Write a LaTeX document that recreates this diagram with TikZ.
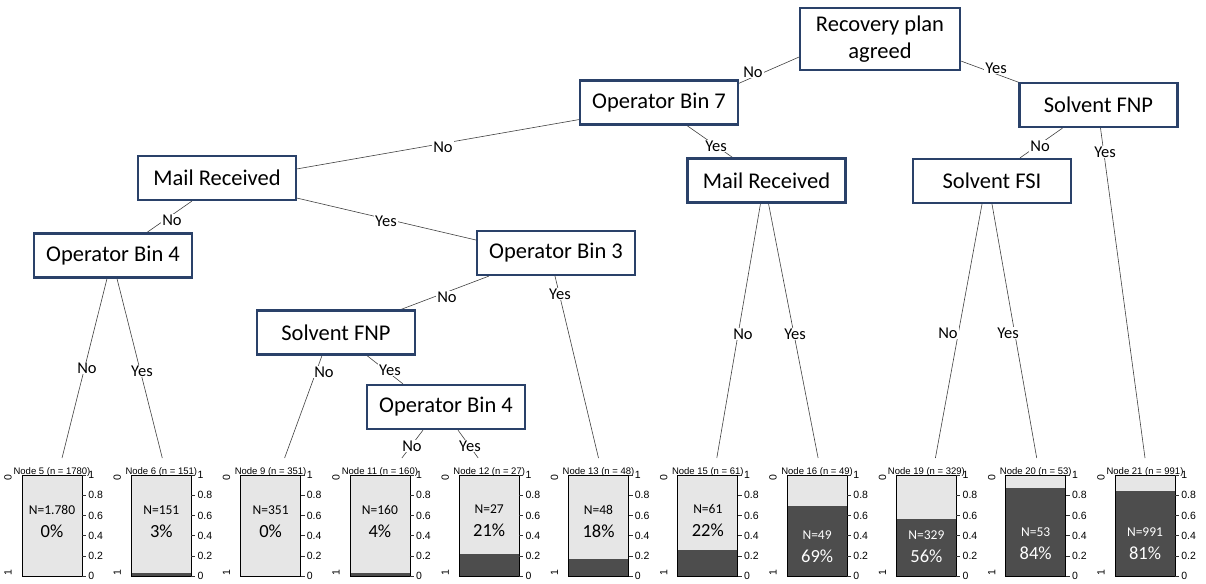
\documentclass[tikz,border=0pt]{standalone}
\usepackage{fontspec}
\newfontfamily\carl{Carlito}
\newfontfamily\lsans{Liberation Sans}
\usetikzlibrary{calc,backgrounds}
\definecolor{navy}{HTML}{2A4169}
\definecolor{lightbar}{HTML}{E6E6E6}
\definecolor{darkbar}{HTML}{4D4D4D}
\tikzset{
  dbox/.style={draw=navy, line width=2.2pt, fill=white, minimum width=158pt, minimum height=44pt,
    inner sep=2pt, font=\carl\fontsize{22.5}{27}\selectfont},
  elab/.style={fill=white, inner sep=1pt, font=\carl\fontsize{16.5}{18}\selectfont},
  edge/.style={draw=black!75, line width=0.6pt},
  barbox/.style={minimum width=60pt, minimum height=101pt, inner sep=0pt, outer sep=0pt, fill=lightbar},
  darkfill/.style={fill=darkbar},
  barline/.style={draw=black, line width=0.8pt},
  ttl/.style={anchor=base, inner sep=0pt, font=\lsans\fontsize{9.5}{10}\selectfont},
  ntext/.style={inner sep=0pt, font=\carl\fontsize{13.5}{14}\selectfont},
  ptext/.style={inner sep=0pt, font=\carl\fontsize{18.5}{20}\selectfont},
  axlab/.style={inner sep=2pt, font=\lsans\fontsize{10.5}{11}\selectfont},
  tick/.style={draw=black!80, line width=0.6pt}
}
\newcommand{\leafbar}[8]{%
  \node[barbox] (#1) at (#2+30,525.5) {};
  \fill[darkfill] (#1.south west) rectangle ($(#1.south east)+(0,-#3*101)$);
  \draw[barline] (#1.south west) rectangle (#1.north east);
  \node[ttl] (#1t) at (#2+30,474) {#4};
  \node[ntext,text=#8] (#1n) at (#2+30,#7) {#5};
  \node[ptext,text=#8] (#1p) at (#2+30,#7+21) {#6};
  \foreach \v in {0,0.2,0.4,0.6,0.8,1}{%
    \draw[tick] ($(#1.south east)+(0,-\v*101)$) -- ++(4,0) node[axlab,anchor=west]{\v};}
  \node[axlab,rotate=90] (#1a) at ($(#1.north west)+(-14,3)$) {0};
  \node[axlab,rotate=90] (#1b) at ($(#1.south west)+(-14,-3)$) {1};
}
\begin{document}
\begin{tikzpicture}[x=1pt,y=-1pt]
\useasboundingbox (0,0) rectangle (1206,583);
% decision boxes
\node[dbox, minimum width=160pt, minimum height=62pt, align=center] (rec) at (880,39) {Recovery plan\\agreed};
\node[dbox] (ob7) at (659,102.5) {Operator Bin 7};
\node[dbox] (mrM) at (766.5,180.5) {Mail Received};
\node[dbox] (sfnpR) at (1098.5,105) {Solvent FNP};
\node[dbox] (sfsi) at (992,181) {Solvent FSI};
\node[dbox] (mrL) at (217,178) {Mail Received};
\node[dbox] (ob4L) at (113,255.5) {Operator Bin 4};
\node[dbox] (ob3) at (556,253) {Operator Bin 3};
\node[dbox] (sfnpM) at (336,332.5) {Solvent FNP};
\node[dbox] (ob4M) at (446,407) {Operator Bin 4};
% leaves
\leafbar{n5}{22}{0}{Node 5 (n = 1780)}{N=1.780}{0\%}{510}{black}
\leafbar{n6}{131.3}{0.03}{Node 6 (n = 151)}{N=151}{3\%}{510}{black}
\leafbar{n9}{240.6}{0}{Node 9 (n = 351)}{N=351}{0\%}{510}{black}
\leafbar{n11}{349.9}{0.03}{Node 11 (n = 160)}{N=160}{4\%}{510}{black}
\leafbar{n12}{459.2}{0.22}{Node 12 (n = 27)}{N=27}{21\%}{509}{black}
\leafbar{n13}{568.5}{0.17}{Node 13 (n = 48)}{N=48}{18\%}{510}{black}
\leafbar{n15}{677.8}{0.26}{Node 15 (n = 61)}{N=61}{22\%}{509}{black}
\leafbar{n16}{787.1}{0.69}{Node 16 (n = 49)}{N=49}{69\%}{535}{white}
\leafbar{n19}{896.4}{0.56}{Node 19 (n = 329)}{N=329}{56\%}{535}{white}
\leafbar{n20}{1005.7}{0.87}{Node 20 (n = 53)}{N=53}{84\%}{532}{white}
\leafbar{n21}{1115}{0.84}{Node 21 (n = 991)}{N=991}{81\%}{532}{white}
% connectors
\begin{scope}[on background layer]
\draw[edge] ($(rec.south west)+(0,-14)$) -- ($(ob7.north east)+(-5,6)$);
\draw[edge] ($(rec.south east)+(0,-10)$) -- ($(sfnpR.north west)+(10,4)$);
\draw[edge] ($(ob7.south west)+(0,-6)$) -- ($(mrL.north east)+(0,14)$);
\draw[edge] ($(ob7.south)+(28,0)$) -- ($(mrM.north)+(-34,0)$);
\draw[edge] ($(mrL.south west)+(55,0)$) -- ($(ob4L.north)+(34,0)$);
\draw[edge] ($(mrL.south east)+(0,-3)$) -- ($(ob3.west)+(0,-13)$);
\draw[edge] ($(ob4L.south)+(-6,0)$) -- ($(n5.north)+(10,-17)$);
\draw[edge] ($(ob4L.south)+(4,0)$) -- ($(n6.north)+(1,-17)$);
\draw[edge] ($(ob3.south west)+(13,0)$) -- ($(sfnpM.north east)+(-15,0)$);
\draw[edge] ($(ob3.south)+(-1,0)$) -- ($(n13.north)+(0,-17)$);
\draw[edge] ($(sfnpM.south)+(-14,0)$) -- ($(n9.north)+(14,-17)$);
\draw[edge] ($(sfnpM.south)+(31,0)$) -- ($(ob4M.north)+(-43,0)$);
\draw[edge] ($(ob4M.south)+(-23,0)$) -- ($(n11.north)+(22,-17)$);
\draw[edge] ($(ob4M.south)+(12,0)$) -- ($(n12.north)+(-11,-17)$);
\draw[edge] ($(mrM.south)+(-6,0)$) -- ($(n15.north)+(9,-17)$);
\draw[edge] ($(mrM.south)+(2,0)$) -- ($(n16.north)+(1,-17)$);
\draw[edge] ($(sfnpR.south)+(-36,0)$) -- ($(sfsi.north)+(28,0)$);
\draw[edge] ($(sfnpR.south)+(2,0)$) -- ($(n21.north)+(0,-17)$);
\draw[edge] ($(sfsi.south)+(-10,0)$) -- ($(n19.north)+(9,-17)$);
\draw[edge] ($(sfsi.south)+(0,0)$) -- ($(n20.north)+(1,-17)$);
\end{scope}
% edge labels
\node[elab] (l1) at (753,72) {No};
\node[elab] (l2) at (996,68) {Yes};
\node[elab] (l3) at (443,147) {No};
\node[elab] (l4) at (716,146) {Yes};
\node[elab] (l5) at (172,220) {No};
\node[elab] (l6) at (386,221) {Yes};
\node[elab] (l7) at (87,368) {No};
\node[elab] (l8) at (142,371) {Yes};
\node[elab] (l9) at (447,297) {No};
\node[elab] (l10) at (560,294) {Yes};
\node[elab] (l11) at (324,372) {No};
\node[elab] (l12) at (390,370) {Yes};
\node[elab] (l13) at (412,446) {No};
\node[elab] (l14) at (470,446) {Yes};
\node[elab] (l15) at (743,334) {No};
\node[elab] (l16) at (795,334) {Yes};
\node[elab] (l17) at (1040,146) {No};
\node[elab] (l18) at (1105,152) {Yes};
\node[elab] (l19) at (948,333) {No};
\node[elab] (l20) at (1008,333) {Yes};
\end{tikzpicture}
\end{document}
